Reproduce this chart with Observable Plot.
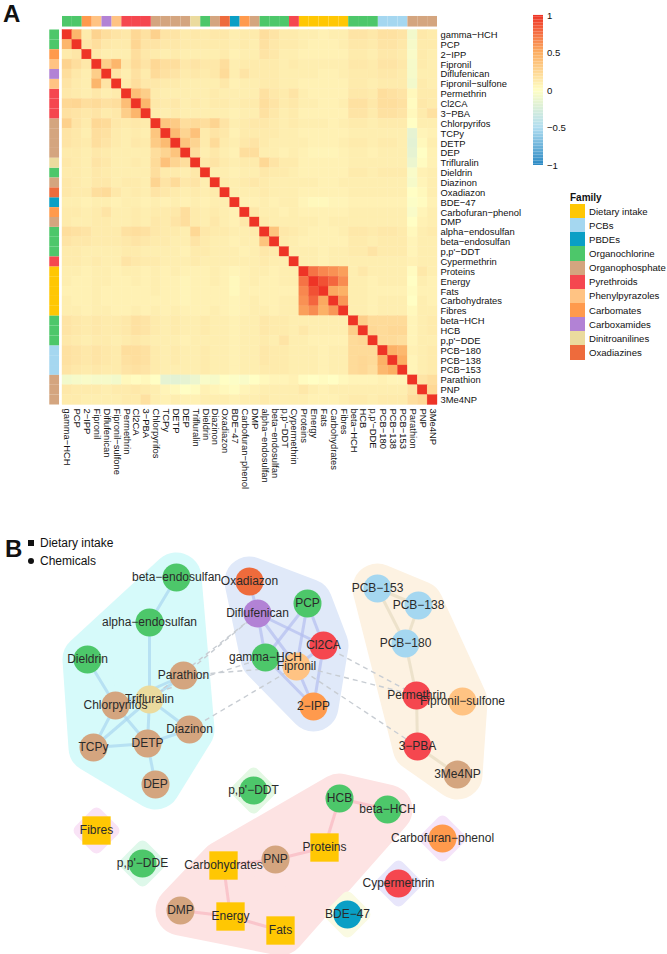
<!DOCTYPE html>
<html><head><meta charset="utf-8">
<script src="https://cdn.jsdelivr.net/npm/d3@7"></script>
<script src="https://cdn.jsdelivr.net/npm/@observablehq/plot@0.6"></script>
<style>
body{margin:0;background:#fff;font-family:"Liberation Sans",Arial,Helvetica,sans-serif;color:#111;}
#wrap{position:relative;width:667px;height:954px;overflow:hidden;background:#fff;}
.abs{position:absolute;}
.panel{font-weight:bold;font-size:24px;line-height:24px;}
</style></head><body><div id="wrap"></div>
<script>
// ---------- Panel A data ----------
const variables = ["gamma−HCH","PCP","2−IPP","Fipronil","Diflufenican","Fipronil−sulfone","Permethrin","Cl2CA","3−PBA","Chlorpyrifos","TCPy","DETP","DEP","Trifluralin","Dieldrin","Diazinon","Oxadiazon","BDE−47","Carbofuran−phenol","DMP","alpha−endosulfan","beta−endosulfan","p,p'−DDT","Cypermethrin","Proteins","Energy","Fats","Carbohydrates","Fibres","beta−HCH","HCB","p,p'−DDE","PCB−180","PCB−138","PCB−153","Parathion","PNP","3Me4NP"];
const variableFamily = ["Organochlorine","Organochlorine","Carbomates","Phenylpyrazoles","Carboxamides","Phenylpyrazoles","Pyrethroids","Pyrethroids","Pyrethroids","Organophosphate","Organophosphate","Organophosphate","Organophosphate","Dinitroanilines","Organochlorine","Organophosphate","Oxadiazines","PBDEs","Carbomates","Organophosphate","Organochlorine","Organochlorine","Organochlorine","Pyrethroids","Dietary intake","Dietary intake","Dietary intake","Dietary intake","Dietary intake","Organochlorine","Organochlorine","Organochlorine","PCBs","PCBs","PCBs","Organophosphate","Organophosphate","Organophosphate"];
const families = ["Dietary intake","PCBs","PBDEs","Organochlorine","Organophosphate","Pyrethroids","Phenylpyrazoles","Carbomates","Carboxamides","Dinitroanilines","Oxadiazines"];
const familyColors = ["#FFC703","#A5D7F0","#0A9FC5","#4DC76A","#D4A57F","#F5474F","#FFC383","#FF9A4D","#B282D5","#EBDB9E","#EE6B3C"];
// lower triangle of the correlation matrix, in hundredths (row i holds columns 0..i-1)
const corrLower = [
"45",
"12 15",
"27 20 14",
"20 14 10 30",
"16 12 10 45 16",
"14 12 10 14 10 12",
"24 25 20 22 18 20 40",
"18 16 14 16 12 14 30 45",
"28 16 12 24 22 14 12 14 12",
"16 14 10 20 18 12 10 12 10 35",
"16 14 12 20 16 12 10 14 12 32 42",
"12 12 10 14 12 10 10 10 10 20 26 36",
"14 12 10 16 14 10 10 12 10 22 38 26 20",
"12 12 10 14 12 10 10 10 10 20 12 12 10 14",
"14 12 10 14 14 10 12 12 10 26 16 22 14 16 10",
"14 12 12 20 22 14 10 12 10 16 14 12 10 12 10 12",
"10 10 8 10 10 8 10 10 8 10 8 10 8 10 8 10 10",
"12 12 10 12 16 10 10 12 10 12 12 14 20 12 10 12 10 8",
"12 10 10 12 12 10 10 12 10 14 12 16 20 12 10 14 10 8 14",
"20 18 16 12 12 12 18 20 18 14 12 12 10 24 14 12 12 10 10 12",
"16 14 14 12 12 12 14 16 14 12 12 10 10 16 12 10 10 8 10 10 36",
"12 12 10 10 10 10 12 12 10 10 10 10 8 12 12 10 10 10 8 10 14 12",
"12 12 10 12 10 10 16 14 12 12 10 10 10 12 10 10 10 10 10 10 12 10 10",
"10 10 8 10 10 8 10 10 8 10 8 10 8 8 8 10 8 6 8 10 10 8 10 10",
"10 8 8 10 10 8 8 10 8 10 8 8 6 8 8 10 8 4 8 10 8 8 10 10 74",
"8 8 8 10 8 8 8 8 8 10 8 8 6 8 8 8 8 4 8 8 8 8 8 8 66 88",
"10 8 8 10 8 8 8 8 8 8 8 8 6 8 8 8 8 6 8 10 8 8 10 10 62 80 52",
"10 10 8 10 10 8 8 10 8 10 8 10 8 8 8 10 8 6 8 10 10 8 10 10 56 64 48 60",
"16 14 12 14 12 12 14 18 16 12 10 12 10 10 12 10 10 8 10 10 14 12 12 10 10 10 10 10 10",
"16 14 12 14 12 12 14 18 16 12 10 12 10 10 12 10 10 8 10 10 14 12 12 10 14 10 10 10 10 30",
"14 12 10 12 12 10 12 14 12 10 10 10 8 10 10 10 10 8 10 10 12 10 16 10 10 8 8 8 8 22 24",
"18 16 14 16 14 12 20 20 18 12 10 12 10 10 12 10 10 8 10 10 14 12 12 10 10 10 8 10 10 22 22 22",
"18 16 14 16 14 12 18 20 18 12 10 12 10 10 12 10 10 8 10 10 14 12 12 10 10 10 8 10 10 22 24 22 48",
"16 14 12 14 12 12 16 18 16 12 10 10 10 10 12 10 10 8 10 10 12 12 12 10 10 10 8 10 10 22 24 20 44 50",
"-8 -6 -4 -6 -6 -8 4 2 4 0 -16 -18 -16 -12 -4 -6 0 -2 -4 0 4 6 6 8 2 0 2 0 4 6 6 6 8 6 6",
"14 12 12 12 10 12 12 14 12 10 6 4 0 2 8 6 4 2 6 8 10 10 10 10 14 10 8 10 10 10 10 10 10 10 10 16",
"12 12 10 10 10 10 12 12 18 10 8 10 8 8 10 10 10 8 10 10 12 10 10 10 10 8 8 8 10 12 12 10 12 12 12 20 24"
];
const colorStops = [-1, -0.5, 0, 0.5, 1];
const colorRange = ["#2A89C4", "#B0DDF0", "#FFFEC4", "#FCAE62", "#EE3426"];
const legendTicks = [1, 0.5, 0, -0.5, -1];

// ---------- Panel B data ----------
const nodeNames = ["beta−endosulfan","alpha−endosulfan","Dieldrin","Parathion","Trifluralin","Chlorpyrifos","Diazinon","TCPy","DETP","DEP",
  "Oxadiazon","Diflufenican","PCP","Cl2CA","gamma−HCH","Fipronil","2−IPP",
  "PCB−153","PCB−138","PCB−180","Permethrin","Fipronil−sulfone","3−PBA","3Me4NP",
  "HCB","beta−HCH","Proteins","PNP","Carbohydrates","DMP","Energy","Fats",
  "p,p'−DDT","Fibres","p,p'−DDE","Carbofuran−phenol","Cypermethrin","BDE−47"];
const nodeX = [176,149,87,183,149,115,189,93,147,155, 249,257,307,323,265,296,313, 377,418,405,416,462,417,457, 339,387,324,275,223,180,230,280, 253,96,142,442,398,347];
const nodeY = [577,622,659,675,699,705,729,747,743,784, 581,613,603,645,657,666,706, 588,605,643,695,701,746,774, 798,809,847,859,865,910,916,930, 790,830,863,838,883,914];
const nodeCluster = [0,0,0,0,0,0,0,0,0,0, 1,1,1,1,1,1,1, 2,2,2,2,2,2,2, 3,3,3,3,3,3,3,3, 4,5,6,7,8,9];
const clusterFill = ["#D6FAFA","#E0E9F9","#FDF2E2","#FDE3E3","#E3F8E3","#F9E3F6","#DEF8EA","#F5E4F9","#E8E6FB","#FAFAE2"];
const clusterEdge = ["#A9D6EF","#B4BEF0","#E6DCC2","#F8B8C0"];
const solidEdges = [
  ["beta−endosulfan","alpha−endosulfan"],["alpha−endosulfan","Trifluralin"],["Dieldrin","Chlorpyrifos"],["Chlorpyrifos","Trifluralin"],
  ["Chlorpyrifos","TCPy"],["Chlorpyrifos","DETP"],["Trifluralin","DETP"],["Trifluralin","Parathion"],["Trifluralin","Diazinon"],
  ["TCPy","DETP"],["DETP","DEP"],["DETP","Diazinon"],["Parathion","Chlorpyrifos"],["TCPy","Trifluralin"],
  ["Oxadiazon","Diflufenican"],["Diflufenican","gamma−HCH"],["Diflufenican","Cl2CA"],["Diflufenican","Fipronil"],["PCP","gamma−HCH"],
  ["PCP","Cl2CA"],["PCP","Fipronil"],["Cl2CA","2−IPP"],["gamma−HCH","Fipronil"],["Fipronil","2−IPP"],["Cl2CA","Fipronil"],["gamma−HCH","2−IPP"],
  ["PCB−153","PCB−138"],["PCB−153","PCB−180"],["PCB−138","PCB−180"],["PCB−180","Permethrin"],["Permethrin","3−PBA"],
  ["Permethrin","Fipronil−sulfone"],["3−PBA","3Me4NP"],
  ["HCB","beta−HCH"],["HCB","Proteins"],["Proteins","PNP"],["PNP","Carbohydrates"],["Carbohydrates","Energy"],["DMP","Energy"],["Energy","Fats"]
];
const dashedEdges = [
  ["Parathion","Diflufenican"],["Trifluralin","Diflufenican"],["Chlorpyrifos","gamma−HCH"],["Parathion","Fipronil"],["Diazinon","Fipronil"],
  ["Cl2CA","Permethrin"],["gamma−HCH","Permethrin"],["Fipronil","3−PBA"]
];

// ---------- build ----------
const font = "'Liberation Sans', Arial, Helvetica, sans-serif";
const wrap = document.getElementById("wrap");
const N = variables.length;
const lower = corrLower.map(s => s.trim().split(/\s+/).map(Number));
const cells = [];
for (let i = 0; i < N; i++) for (let j = 0; j < N; j++) {
  const v = i === j ? 1 : (i > j ? lower[i - 1][j] : lower[j - 1][i]) / 100;
  cells.push({i, j, v});
}
const colorOpt = {type: "linear", domain: colorStops, range: colorRange, interpolate: "rgb"};
const famColor = f => familyColors[families.indexOf(f)];

function place(el, left, top) { el.classList.add("abs"); el.style.left = left + "px"; el.style.top = top + "px"; wrap.appendChild(el); return el; }

// Heatmap
const idx = d3.range(N);
const marksA = [
  Plot.rect(cells, {x1: d => d.j, x2: d => d.j + 1, y1: d => d.i, y2: d => d.i + 1, fill: "v", stroke: "v", strokeWidth: 0.35})
];
families.forEach((f, k) => {
  const members = idx.filter(i => variableFamily[i] === f);
  marksA.push(Plot.rect(members, {x1: i => i, x2: i => i + 1, y1: -1.37, y2: -0.3, fill: familyColors[k]}));
  marksA.push(Plot.rect(members, {y1: i => i, y2: i => i + 1, x1: -1.29, x2: -0.3, fill: familyColors[k]}));
});
marksA.push(Plot.text(idx, {x: N, y: i => i + 0.5, text: i => variables[i], textAnchor: "start", dx: 3, fontSize: 9.4, fill: "#111"}));
marksA.push(Plot.text(idx, {x: i => i + 0.5, y: N, text: i => variables[i], textAnchor: "start", rotate: 90, dy: 3.5, fontSize: 9.4, fill: "#111"}));

const plotA = Plot.plot({
  width: 667, height: 500,
  x: {domain: [0, N], range: [62, 437], axis: null},
  y: {domain: [0, N], range: [29.5, 404.5], axis: null},
  color: colorOpt,
  style: {fontFamily: font, background: "none", overflow: "visible"},
  marks: marksA
});
place(plotA, 0, 0);

// Color bar legend
const ramp = d3.range(-1, 1, 0.02);
const legendA = Plot.plot({
  width: 90, height: 180,
  x: {domain: [0, 1], range: [13, 23], axis: null},
  y: {domain: [-1, 1], range: [165, 15], axis: null},
  color: colorOpt,
  style: {fontFamily: font, background: "none", overflow: "visible"},
  marks: [
    Plot.rect(ramp, {x1: 0, x2: 1, y1: d => d, y2: d => d + 0.021, fill: d => d + 0.01}),
    Plot.text(legendTicks, {x: 1, y: d => d, text: d => d < 0 ? "−" + Math.abs(d) : String(d), textAnchor: "start", dx: 3.5, fontSize: 9.6, fill: "#111"})
  ]
});
place(legendA, 520, 0);

// Family legend
const fam = document.createElement("div");
fam.style.width = "97px";
const famTitle = document.createElement("div");
famTitle.textContent = "Family";
famTitle.style.cssText = "font-weight:bold;font-size:10px;height:13px;line-height:13px;";
fam.appendChild(famTitle);
families.forEach((f, k) => {
  const row = document.createElement("div");
  row.style.cssText = "display:flex;align-items:center;height:14.15px;";
  const sw = document.createElement("span");
  sw.style.cssText = `display:inline-block;width:15px;height:14.15px;background:${familyColors[k]};`;
  const lb = document.createElement("span");
  lb.textContent = f;
  lb.style.cssText = "font-size:9.6px;margin-left:4px;white-space:nowrap;";
  row.appendChild(sw); row.appendChild(lb);
  fam.appendChild(row);
});
place(fam, 570, 191);

// Panel labels
const la = document.createElement("div"); la.className = "panel"; la.textContent = "A"; place(la, 3, 2);
const lbB = document.createElement("div"); lbB.className = "panel"; lbB.textContent = "B"; place(lbB, 5, 537);

// Network
const nodes = nodeNames.map((name, k) => {
  const vi = variables.indexOf(name);
  const family = variableFamily[vi];
  return {name, x: nodeX[k], y: nodeY[k], cluster: nodeCluster[k], family, color: famColor(family), diet: family === "Dietary intake"};
});
const byName = new Map(nodes.map(d => [d.name, d]));
const multi = nodes.filter(d => d.cluster < 4);
const single = nodes.filter(d => d.cluster >= 4);
const linkOpts = {x1: e => byName.get(e[0]).x, y1: e => byName.get(e[0]).y, x2: e => byName.get(e[1]).x, y2: e => byName.get(e[1]).y};

const plotB = Plot.plot({
  width: 667, height: 424,
  x: {domain: [0, 667], range: [0, 667], axis: null},
  y: {domain: [530, 954], range: [0, 424], axis: null},
  style: {fontFamily: font, background: "none", overflow: "visible"},
  marks: [
    Plot.hull(multi, {x: "x", y: "y", z: "cluster", fill: d => clusterFill[d.cluster], stroke: d => clusterFill[d.cluster], strokeWidth: 50, strokeLinejoin: "round"}),
    Plot.dot(single, {x: "x", y: "y", symbol: "square", rotate: 45, r: 13.5, fill: d => clusterFill[d.cluster], stroke: d => clusterFill[d.cluster], strokeWidth: 12, strokeLinejoin: "round"}),
    Plot.link(solidEdges, {...linkOpts, stroke: e => clusterEdge[byName.get(e[0]).cluster], strokeWidth: 3, strokeOpacity: 0.7}),
    Plot.link(dashedEdges, {...linkOpts, stroke: "#C8CDD3", strokeWidth: 1.4, strokeDasharray: "5,4"}),
    Plot.dot(nodes.filter(d => !d.diet), {x: "x", y: "y", r: 14, fill: "color"}),
    Plot.dot(nodes.filter(d => d.diet), {x: "x", y: "y", symbol: "square", r: 16, fill: "color"}),
    Plot.text(nodes, {x: "x", y: "y", text: "name", fontSize: 12, fill: "#2a2a2a"})
  ]
});
place(plotB, 0, 530);

// Shape legend for panel B
const shp = document.createElement("div");
shp.style.cssText = "font-size:12px;line-height:18px;";
shp.innerHTML = '<div style="display:flex;align-items:center;height:18px;"><span style="display:inline-block;width:6px;height:6px;background:#111;margin:0 6px 0 1px;"></span><span>Dietary intake</span></div>' +
  '<div style="display:flex;align-items:center;height:18px;"><span style="display:inline-block;width:6px;height:6px;border-radius:50%;background:#111;margin:0 6px 0 1px;"></span><span>Chemicals</span></div>';
place(shp, 27, 534);
</script></body></html>
